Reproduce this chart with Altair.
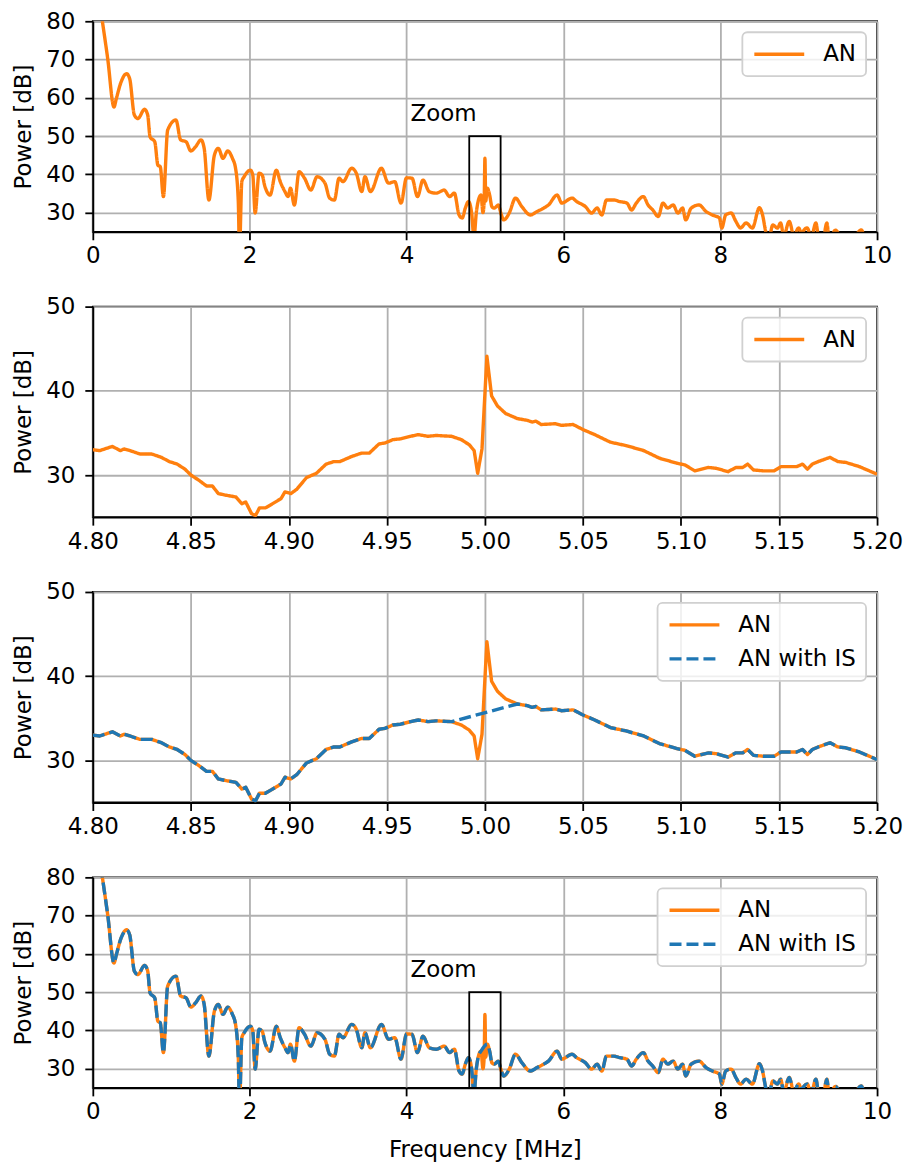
import altair as alt
import pandas as pd

# ---------------- data ----------------
freq_full = [0.10, 0.19, 0.27, 0.30, 0.36, 0.43, 0.47, 0.53, 0.575, 0.66, 0.70, 0.73, 0.79, 0.83, 0.86,
             0.90, 0.955, 1.06, 1.12, 1.19, 1.25, 1.31, 1.38, 1.42, 1.48, 1.55, 1.60, 1.66, 1.72, 1.78,
             1.82, 1.855, 1.87, 1.90, 1.93, 2.01, 2.04, 2.07, 2.12, 2.16, 2.19, 2.26, 2.34, 2.39, 2.45,
             2.49, 2.52, 2.57, 2.63, 2.70, 2.78, 2.86, 2.96, 3.02, 3.08, 3.14, 3.19, 3.30, 3.36, 3.43,
             3.47, 3.54, 3.68, 3.77, 3.85, 3.93, 4.00, 4.07, 4.14, 4.21, 4.29, 4.38, 4.48, 4.55, 4.61,
             4.67, 4.71, 4.75, 4.79, 4.83, 4.86, 4.89, 4.92, 4.95, 4.975, 4.99, 5.00, 5.01, 5.03, 5.06,
             5.09, 5.12, 5.17, 5.21, 5.24, 5.31, 5.39, 5.47, 5.58, 5.665, 5.75, 5.81, 5.92, 5.98, 6.11,
             6.17, 6.28, 6.36, 6.43, 6.49, 6.55, 6.64, 6.72, 6.81, 6.87, 6.93, 7.02, 7.08, 7.14, 7.21,
             7.27, 7.33, 7.40, 7.46, 7.52, 7.56, 7.63, 7.73, 7.82, 7.90, 7.99, 8.02, 8.07, 8.14, 8.20,
             8.26, 8.33, 8.41, 8.50, 8.54, 8.58, 8.62, 8.67, 8.73, 8.77, 8.81, 8.88, 8.94, 9.00, 9.04,
             9.07, 9.11, 9.16, 9.22, 9.26, 9.32, 9.36, 9.39, 9.47, 9.55, 9.65, 9.80, 9.85, 10.0]
an_full = [83.0, 70.2, 57.6, 59.8, 64.1, 66.3, 65.0, 55.5, 54.6, 57.0, 55.5, 49.8, 48.5, 42.4, 42.0,
           34.2, 51.6, 54.2, 49.0, 48.5, 46.1, 47.2, 49.0, 46.8, 33.3, 45.0, 46.8, 44.2, 46.1, 44.2,
           41.6, 32.9, 20.0, 38.1, 39.4, 41.1, 39.8, 29.9, 40.3, 39.8, 37.2, 34.6, 41.1, 38.1, 35.5,
           34.2, 36.4, 32.0, 40.7, 39.0, 35.9, 39.4, 37.7, 33.8, 33.3, 39.0, 38.1, 41.6, 40.3, 35.5,
           39.4, 35.5, 41.6, 37.7, 38.1, 32.5, 39.1, 39.0, 34.2, 38.5, 35.5, 35.1, 35.9, 34.2, 35.1,
           29.4, 28.6, 31.2, 32.9, 30.0, 23.5, 30.0, 33.5, 34.6, 30.0, 33.0, 44.2, 33.0, 36.4, 34.6,
           31.5, 31.2, 32.0, 29.4, 28.1, 29.9, 33.8, 31.6, 29.4, 30.3, 31.2, 32.0, 34.6, 32.5, 33.8,
           32.9, 31.6, 29.9, 31.2, 29.4, 33.3, 33.3, 32.9, 32.5, 30.7, 32.5, 34.2, 32.0, 30.7, 29.0,
           32.5, 31.2, 32.0, 29.9, 31.2, 28.1, 31.2, 32.0, 30.3, 29.4, 28.6, 26.0, 29.4, 29.9, 27.7,
           26.0, 27.3, 26.0, 31.3, 29.4, 25.1, 23.0, 26.8, 26.0, 27.3, 24.0, 27.7, 24.0, 26.0, 24.5,
           25.5, 26.0, 23.5, 27.3, 23.0, 24.0, 27.3, 23.0, 25.4, 23.0, 22.0, 25.5, 23.0, 22.0]

freq_zoom = [4.800, 4.8035, 4.810, 4.814, 4.816, 4.819, 4.824, 4.830, 4.835, 4.839, 4.843, 4.847,
             4.850, 4.854, 4.858, 4.861, 4.864, 4.868, 4.873, 4.876, 4.878, 4.881, 4.883, 4.885,
             4.888, 4.891, 4.896, 4.898, 4.901, 4.904, 4.909, 4.914, 4.919, 4.923, 4.926, 4.932,
             4.937, 4.941, 4.946, 4.949, 4.953, 4.957, 4.962, 4.966, 4.971, 4.975, 4.983, 4.988,
             4.992, 4.9945, 4.9963, 4.9985, 5.001, 5.0034, 5.0064, 5.0106, 5.0166, 5.0216, 5.024,
             5.026, 5.0287, 5.036, 5.039, 5.045, 5.050, 5.056, 5.064, 5.072, 5.081, 5.089, 5.098,
             5.102, 5.107, 5.114, 5.118, 5.124, 5.128, 5.1315, 5.134, 5.137, 5.142, 5.1475, 5.151,
             5.159, 5.162, 5.1645, 5.167, 5.170, 5.176, 5.180, 5.184, 5.191, 5.200]
an_zoom = [33.0, 32.9, 33.4, 32.9, 33.1, 32.9, 32.5, 32.5, 32.1, 31.6, 31.3, 30.7,
           30.0, 29.4, 28.7, 28.7, 27.8, 27.6, 27.4, 26.6, 26.8, 25.4, 25.2, 26.1,
           26.1, 26.5, 27.2, 28.0, 27.8, 28.3, 29.7, 30.2, 31.3, 31.6, 31.6, 32.2,
           32.6, 32.6, 33.7, 33.8, 34.2, 34.3, 34.6, 34.8, 34.6, 34.7, 34.6, 34.2,
           33.6, 32.9, 30.2, 33.1, 44.1, 39.4, 38.2, 37.3, 36.7, 36.5, 36.3,
           36.4, 36.0, 36.1, 35.9, 36.0, 35.4, 34.8, 33.9, 33.5, 32.9, 32.0, 31.4,
           31.2, 30.5, 30.9, 30.8, 30.4, 30.9, 30.9, 31.3, 30.6, 30.5, 30.5, 31.0,
           31.0, 31.3, 30.7, 31.3, 31.6, 32.1, 31.6, 31.5, 31.0, 30.1]

# interference suppression (IS) removes the samples of the spike inside these bands
is_band_full = [4.97, 5.02]
is_band_zoom = [4.984, 5.016]

series_names = ["AN", "AN with IS"]
zoom_box_freq = [4.8, 5.2]
zoom_box_power = [25, 50]
zoom_label = ["Zoom"]
zoom_label_freq = [4.05]
zoom_label_power = [54]

ticks_full_x = [0, 2, 4, 6, 8, 10]
ticks_full_y = [30, 40, 50, 60, 70, 80]
ticks_zoom_x = [4.80, 4.85, 4.90, 4.95, 5.00, 5.05, 5.10, 5.15, 5.20]
ticks_zoom_y = [30, 40, 50]

# ---------------- styling ----------------
ORANGE = "#ff7f0e"
BLUE = "#1f77b4"
FONT = "DejaVu Sans"
FS = 23
LW = 3.4
W, H = 786, 211


def frame(f, p, name):
    return pd.DataFrame({"f": f, "p": p, "series": name})


def without_band(f, p, band):
    keep = [not (band[0] < v < band[1]) for v in f]
    return [v for v, k in zip(f, keep) if k], [v for v, k in zip(p, keep) if k]


df_an_full = frame(freq_full, an_full, series_names[0])
df_is_full = frame(*without_band(freq_full, an_full, is_band_full), series_names[1])
df_an_zoom = frame(freq_zoom, an_zoom, series_names[0])
df_is_zoom = frame(*without_band(freq_zoom, an_zoom, is_band_zoom), series_names[1])

df_box = pd.DataFrame({"f": [zoom_box_freq[0]], "f2": [zoom_box_freq[1]],
                       "p": [zoom_box_power[0]], "p2": [zoom_box_power[1]]})
df_label = pd.DataFrame({"f": zoom_label_freq, "p": zoom_label_power, "label": zoom_label})


def make_panel(dfs, xdom, xticks, xfmt, ydom, yticks, xtitle=None, zoom_box=False, interp="linear"):
    names = [d["series"].iloc[0] for d in dfs]
    colors = [ORANGE if n == "AN" else BLUE for n in names]
    dashes = [[1, 0] if n == "AN" else [12, 5] for n in names]
    x = alt.X("f:Q", scale=alt.Scale(domain=xdom, nice=False, zero=False),
              axis=alt.Axis(values=xticks, format=xfmt, title=xtitle))
    y = alt.Y("p:Q", scale=alt.Scale(domain=ydom, nice=False, zero=False),
              axis=alt.Axis(values=yticks, title="Power [dB]"))
    color = alt.Color("series:N", scale=alt.Scale(domain=names, range=colors),
                      legend=alt.Legend(title=None))
    dash = alt.StrokeDash("series:N", scale=alt.Scale(domain=names, range=dashes),
                          legend=alt.Legend(title=None))
    layers = [
        alt.Chart(d).mark_line(clip=True, strokeWidth=LW, strokeJoin="round", strokeCap="butt",
                               interpolate=interp)
        .encode(x=x, y=y, color=color, strokeDash=dash)
        for d in dfs
    ]
    if zoom_box:
        layers.append(
            alt.Chart(df_box).mark_rect(fillOpacity=0, stroke="black", strokeWidth=1.8)
            .encode(x=x, x2=alt.X2("f2"), y=y, y2=alt.Y2("p2"))
        )
        layers.append(
            alt.Chart(df_label).mark_text(align="left", baseline="alphabetic", fontSize=FS,
                                          font=FONT, color="black")
            .encode(x=x, y=y, text="label:N")
        )
    return alt.layer(*layers).properties(width=W, height=H)


p1 = make_panel([df_an_full], [0, 10], ticks_full_x, "d", [25, 80], ticks_full_y,
                zoom_box=True, interp="monotone")
p2 = make_panel([df_an_zoom], [4.8, 5.2], ticks_zoom_x, ".2f", [25, 50], ticks_zoom_y)
p3 = make_panel([df_an_zoom, df_is_zoom], [4.8, 5.2], ticks_zoom_x, ".2f", [25, 50], ticks_zoom_y)
p4 = make_panel([df_an_full, df_is_full], [0, 10], ticks_full_x, "d", [25, 80], ticks_full_y,
                xtitle="Frequency [MHz]", zoom_box=True, interp="monotone")

chart = (
    alt.vconcat(p1, p2, p3, p4, spacing=26)
    .resolve_scale(color="independent", strokeDash="independent", x="independent", y="independent")
    .resolve_legend(color="independent", strokeDash="independent")
    .properties(padding={"left": 3, "top": 0, "right": 0, "bottom": 0}, background="white")
    .configure(font=FONT)
    .configure_view(stroke="black", strokeWidth=1.8)
    .configure_axis(
        labelFont=FONT, labelFontSize=FS, labelColor="black", labelFlush=False,
        titleFont=FONT, titleFontSize=FS, titleFontWeight="normal", titleColor="black",
        domainColor="black", domainWidth=1.8,
        tickColor="black", tickWidth=1.8, tickSize=8,
        gridColor="#b0b0b0", gridWidth=1.8, gridOpacity=1,
    )
    .configure_axisX(labelPadding=5, titlePadding=15)
    .configure_axisY(labelPadding=10, titlePadding=10)
    .configure_legend(
        orient="top-right", offset=11, padding=10, rowPadding=10,
        symbolType="M-2.5,0L2.5,0", symbolSize=400, symbolStrokeWidth=LW,
        symbolOffset=15, labelOffset=32,
        labelFont=FONT, labelFontSize=FS, labelColor="black",
        strokeColor="#d0d0d0", strokeWidth=1.8, fillColor="rgba(255,255,255,0.8)",
        cornerRadius=5,
    )
)

chart.save("out.html", embed_options={"renderer": "svg", "actions": False})
